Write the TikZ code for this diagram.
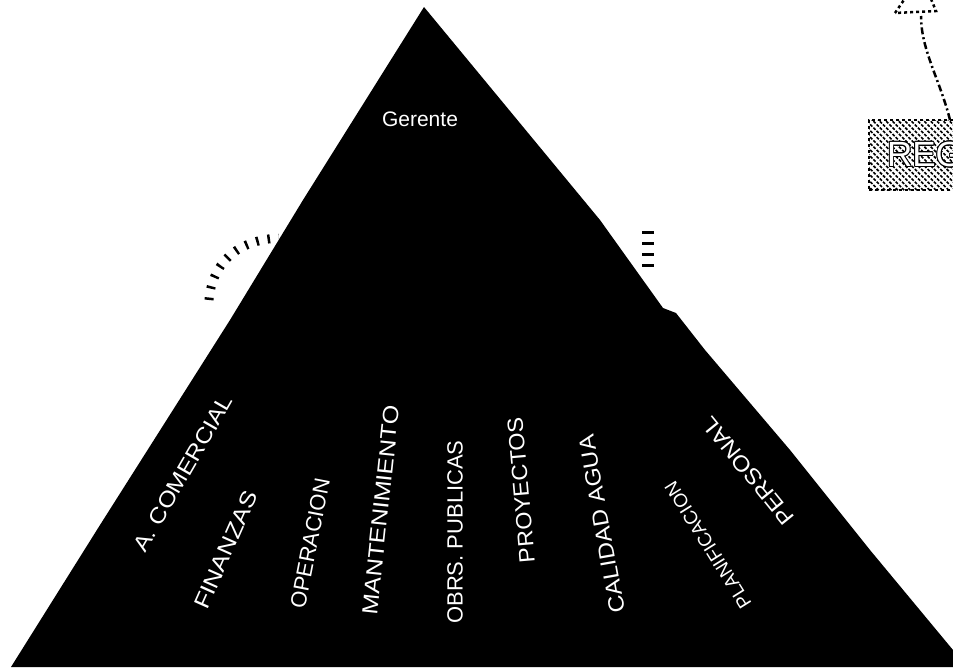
\documentclass[tikz,border=0pt]{standalone}
\usepackage{fontspec}
\usepackage{graphicx}
\usepackage{contour}
\contourlength{0.9pt}
\newfontfamily\arialf{Liberation Sans}
\usetikzlibrary{patterns.meta}
\tikzset{
  lbl/.style={text=white, inner sep=0pt, font=\arialf\fontsize{22}{22}\selectfont},
  orn/.style={line width=9pt, dash pattern=on 2.5pt off 9pt},
  regbox/.style={draw=black, line width=2.5pt, dashed, pattern={Lines[angle=-45, distance=4.5pt, line width=1.6pt]}, minimum width=112pt, minimum height=70pt, inner sep=0pt, font=\arialf\fontsize{35}{35}\selectfont},
  dashdot/.style={line width=2.5pt, dash pattern=on 7pt off 3pt on 2pt off 3pt}
}
\begin{document}
\begin{tikzpicture}[x=1pt,y=-1pt]
\useasboundingbox (0,0) rectangle (953,667);
\clip (0,0) rectangle (953,667);
% pyramid
\fill[black] (424,7) -- (600,220) -- (663,308) -- (676,313) -- (705,350) -- (790,450) -- (870,550) -- (953,650) -- (967,667)
  -- (11,667) -- (100,525) -- (230,320) -- (303,200) -- cycle;
% ornaments
\draw[orn] (209,300) .. controls (212,265) and (235,240) .. (279,238);
\draw[line width=12pt, dash pattern=on 3pt off 8pt] (648,231) -- (648,272);
% texts
\node[lbl, font=\arialf\fontsize{21}{21}\selectfont] (ger) at (420,119) {Gerente};
\node[lbl, rotate=60] (com) at (183,473) {\scalebox{1.12}[1]{A. COMERCIAL}};
\node[lbl, rotate=66] (fin) at (226,550) {\scalebox{1.16}[1]{FINANZAS}};
\node[lbl, rotate=79] (ope) at (310,543) {OPERACION};
\node[lbl, rotate=84] (man) at (381,510) {\scalebox{1.14}[1]{MANTENIMIENTO}};
\node[lbl, rotate=90] (obr) at (455,532) {OBRS. PUBLICAS};
\node[lbl, rotate=95] (pro) at (521,490) {\scalebox{1.06}[1]{PROYECTOS}};
\node[lbl, rotate=100] (cal) at (602,524) {\scalebox{1.1}[1]{CALIDAD AGUA}};
\node[lbl, rotate=122, font=\arialf\fontsize{19}{19}\selectfont] (pla) at (708,545) {PLANIFICACION};
\node[lbl, rotate=129] (per) at (748,471) {\scalebox{1.1}[1]{PERSONAL}};
% REG box and arrow
\node[regbox] (reg) at (925,155) {\contour{black}{\textcolor{white}{REG}}};
\coordinate (cstart) at (950,120);
\coordinate (tip) at (921,16);
\draw[dashdot] (cstart) .. controls (940,80) and (921,50) .. (tip);
\draw[line width=2.5pt, dashed] (895,13) -- (921,-25) -- (936,11) -- cycle;
\end{tikzpicture}
\end{document}
